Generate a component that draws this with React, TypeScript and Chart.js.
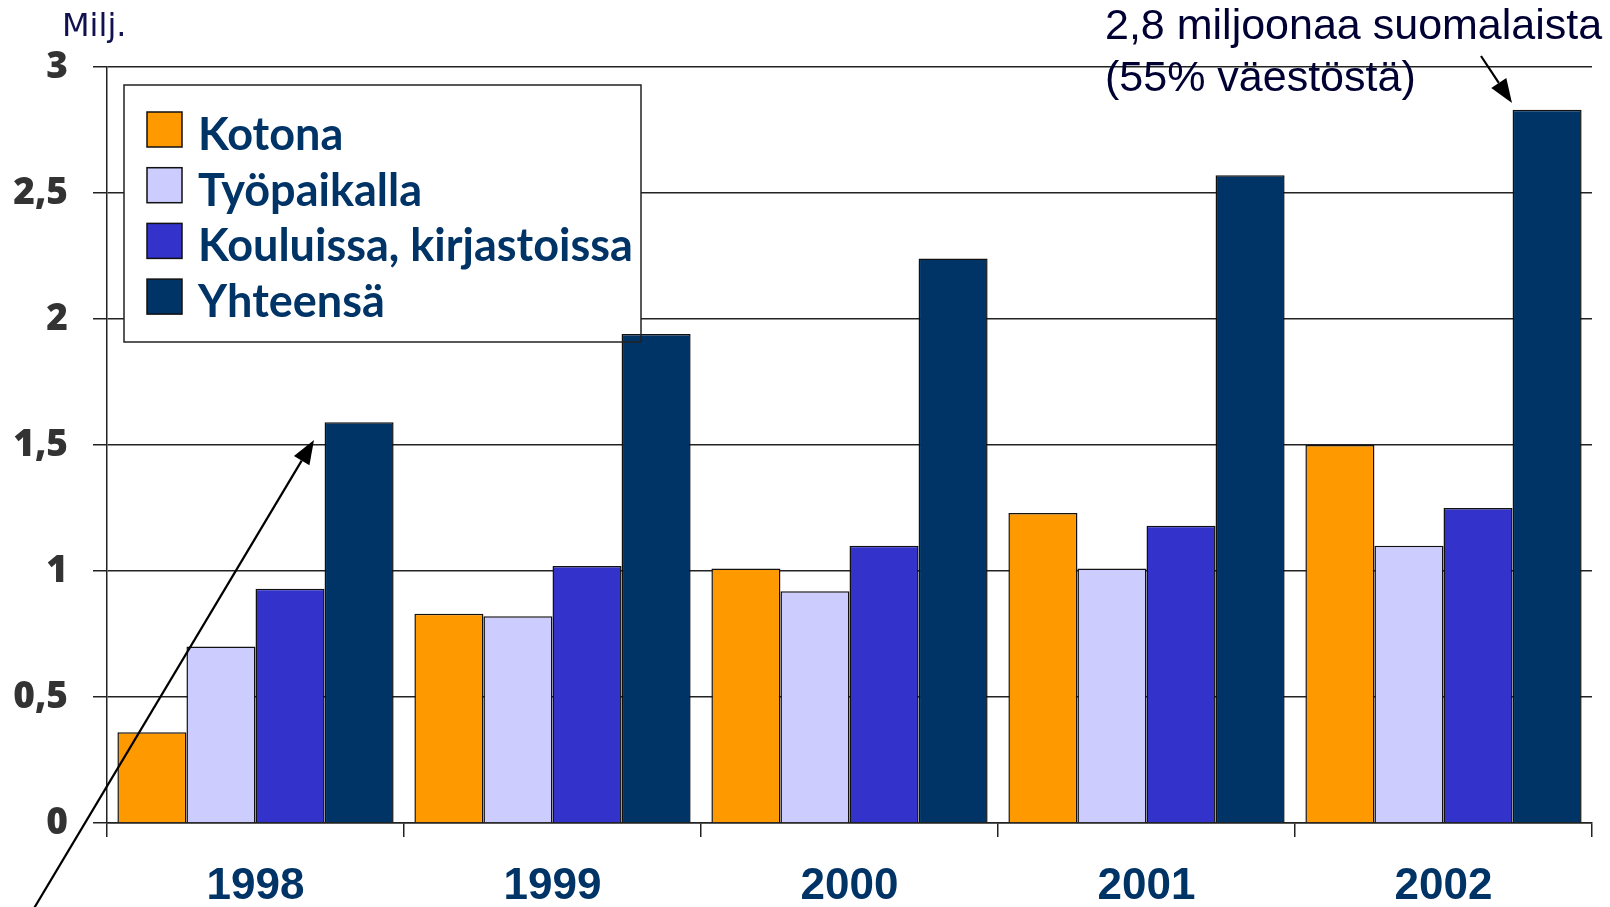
import { useEffect, useRef } from 'react';
import { Chart, registerables } from 'chart.js';

Chart.register(...registerables);

const years = ['1998', '1999', '2000', '2001', '2002'];
const kotona = [0.36, 0.83, 1.01, 1.23, 1.50];
const tyopaikalla = [0.70, 0.82, 0.92, 1.01, 1.10];
const kouluissa = [0.93, 1.02, 1.10, 1.18, 1.25];
const yhteensa = [1.59, 1.94, 2.24, 2.57, 2.83];
const seriesNames = ['Kotona', 'Työpaikalla', 'Kouluissa, kirjastoissa', 'Yhteensä'];
const seriesColors = ['#FF9900', '#CCCCFF', '#3333CC', '#003366'];
const yTickLabels = ['0', '0,5', '1', '1,5', '2', '2,5', '3'];
const unitLabel = 'Milj.';
const noteLines = ['2,8 miljoonaa suomalaista', '(55% väestöstä)'];

function drawArrow(ctx: CanvasRenderingContext2D, x1: number, y1: number, x2: number, y2: number) {
  const ang = Math.atan2(y2 - y1, x2 - x1);
  const len = 24;
  const half = 9;
  const bx = x2 - len * Math.cos(ang);
  const by = y2 - len * Math.sin(ang);
  ctx.save();
  ctx.strokeStyle = '#000';
  ctx.fillStyle = '#000';
  ctx.lineWidth = 2.2;
  ctx.beginPath();
  ctx.moveTo(x1, y1);
  ctx.lineTo(bx, by);
  ctx.stroke();
  ctx.beginPath();
  ctx.moveTo(x2, y2);
  ctx.lineTo(bx + half * Math.sin(ang), by - half * Math.cos(ang));
  ctx.lineTo(bx - half * Math.sin(ang), by + half * Math.cos(ang));
  ctx.closePath();
  ctx.fill();
  ctx.restore();
}

const LEG = { x: 124, y: 85, w: 517, h: 257 };

const legendPlugin = {
  id: 'customLegend',
  beforeDatasetsDraw(chart: any) {
    const ctx = chart.ctx as CanvasRenderingContext2D;
    ctx.save();
    ctx.fillStyle = '#ffffff';
    ctx.fillRect(LEG.x, LEG.y, LEG.w, LEG.h);
    ctx.restore();
  },
  afterDatasetsDraw(chart: any) {
    const ctx = chart.ctx as CanvasRenderingContext2D;
    ctx.save();
    ctx.strokeStyle = '#222';
    ctx.lineWidth = 1.5;
    ctx.strokeRect(LEG.x, LEG.y, LEG.w, LEG.h);
    chart.data.datasets.forEach((ds: any, i: number) => {
      const top = 112 + i * 55.7;
      ctx.fillStyle = ds.backgroundColor;
      ctx.fillRect(147, top, 35, 35);
      ctx.strokeStyle = '#111';
      ctx.lineWidth = 1.5;
      ctx.strokeRect(147, top, 35, 35);
      ctx.fillStyle = '#003366';
      ctx.font = 'bold 45px Lato';
      ctx.textBaseline = 'alphabetic';
      ctx.textAlign = 'left';
      ctx.fillText(ds.label, 198, top + 38);
    });
    ctx.restore();
  },
};

const notePlugin = {
  id: 'notes',
  afterDraw(chart: any) {
    const ctx = chart.ctx as CanvasRenderingContext2D;
    ctx.save();
    ctx.fillStyle = '#111150';
    ctx.font = '32px "DejaVu Sans"';
    ctx.textAlign = 'left';
    ctx.textBaseline = 'alphabetic';
    ctx.fillText(unitLabel, 62, 36);
    ctx.fillStyle = '#000033';
    ctx.font = '43px "Liberation Sans"';
    ctx.fillText(noteLines[0], 1105, 39);
    ctx.fillText(noteLines[1], 1105, 91);
    ctx.restore();
    drawArrow(ctx, 1481, 56, 1512, 103);
    drawArrow(ctx, 30, 915, 314, 440);
  },
};

export default function App() {
  const ref = useRef<HTMLCanvasElement | null>(null);
  useEffect(() => {
    document.body.style.margin = '0';
    if (!ref.current) return;
    const data = [kotona, tyopaikalla, kouluissa, yhteensa];
    const chart = new Chart(ref.current, {
      type: 'bar',
      data: {
        labels: years,
        datasets: data.map((d, i) => ({
          label: seriesNames[i],
          data: d,
          backgroundColor: seriesColors[i],
          borderColor: '#111',
          borderWidth: 1.5,
          categoryPercentage: 0.93,
          barPercentage: 1.0,
        })),
      },
      options: {
        responsive: false,
        animation: false,
        layout: { padding: { left: 0, right: 18, top: 67, bottom: 0 } },
        plugins: { legend: { display: false }, tooltip: { enabled: false } },
        scales: {
          x: {
            grid: { drawOnChartArea: false, color: '#222', lineWidth: 1.5, tickLength: 14, offset: true },
            border: { display: true, color: '#222', width: 1.5 },
            ticks: {
              color: '#003366',
              font: { family: '"Liberation Sans"', weight: 'bold', size: 44 },
              padding: 23,
            },
            afterFit(s: any) {
              s.height = 84;
            },
          },
          y: {
            min: 0,
            max: 3,
            ticks: {
              stepSize: 0.5,
              callback: (v: any) => yTickLabels[Math.round(Number(v) * 2)] ?? '',
              color: '#333',
              font: { family: '"Open Sans"', weight: '800', size: 37 },
              padding: 25,
            },
            grid: { color: '#222', lineWidth: 1.5, tickLength: 14 },
            border: { display: true, color: '#222', width: 1.5 },
            afterFit(s: any) {
              s.width = 107;
            },
          },
        },
      },
      plugins: [legendPlugin, notePlugin],
    } as any);
    return () => chart.destroy();
  }, []);
  return <canvas ref={ref} width={1610} height={907} style={{ display: 'block' }} />;
}
